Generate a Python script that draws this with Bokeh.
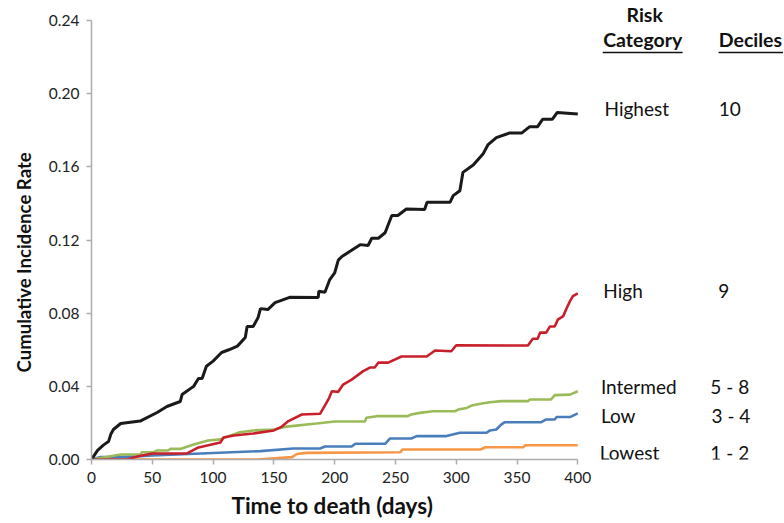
from bokeh.plotting import figure
from bokeh.models import Range1d, FixedTicker, NumeralTickFormatter, ColumnDataSource, Title
from bokeh.core.properties import value
from bokeh.embed import file_html
from bokeh.resources import INLINE

# ---- data ----
days_black = [0, 5, 10, 14, 16, 18, 24, 40, 54, 62, 73, 74.5, 84, 88, 91, 94.5, 100, 107, 113, 120,
              126.5, 128, 133, 137, 139, 145, 151, 163, 186.5, 187, 192, 196, 200, 203, 206, 213, 221,
              227.5, 230.5, 236, 241.5, 247, 252, 259, 274, 276, 295, 297.5, 303, 305.5, 314, 322, 326,
              333, 344, 354, 360.5, 367, 371, 379, 383, 400]
highest = [0, 0.005, 0.008, 0.0098, 0.014, 0.0164, 0.0197, 0.021, 0.0257, 0.029, 0.0317, 0.0355, 0.040,
           0.0443, 0.0443, 0.051, 0.0538, 0.0585, 0.060, 0.062, 0.0667, 0.0727, 0.0727, 0.0776, 0.0825,
           0.082, 0.0858, 0.0887, 0.0886, 0.092, 0.0915, 0.0984, 0.102, 0.109, 0.111, 0.114, 0.1175,
           0.117, 0.121, 0.121, 0.124, 0.1334, 0.1334, 0.137, 0.1367, 0.1407, 0.1407, 0.1443, 0.147,
           0.157, 0.161, 0.167, 0.172, 0.176, 0.1786, 0.1786, 0.182, 0.182, 0.186, 0.186, 0.1897, 0.189]

days_red = [0, 29, 38.6, 50, 78.6, 88, 106, 108.6, 117, 133, 150, 156.6, 162, 173, 188, 190.6, 195,
            197.7, 203, 207, 214, 223.5, 229, 233, 236, 244, 255, 275.7, 282.6, 296, 300, 359, 363,
            367, 369, 374, 377, 381, 383.6, 388, 391, 393.6, 396, 400]
high = [0, 0, 0.0018, 0.0033, 0.0033, 0.0066, 0.0093, 0.012, 0.0131, 0.0142, 0.0159, 0.018, 0.021,
        0.0246, 0.025, 0.028, 0.033, 0.0373, 0.037, 0.041, 0.0437, 0.0483, 0.0503, 0.0503, 0.053,
        0.053, 0.0563, 0.0563, 0.0596, 0.0592, 0.0625, 0.0623, 0.066, 0.066, 0.0694, 0.0694, 0.0727,
        0.0727, 0.0765, 0.0784, 0.083, 0.0866, 0.0893, 0.0908]

days_green = [0, 15.6, 24, 40, 41.6, 51, 54, 63, 65, 73, 84, 96, 106, 111.5, 122, 133, 150, 160.7,
              185, 200, 225, 226, 234.6, 260, 263, 270, 281, 299, 301.6, 308.6, 312.7, 321, 327.7,
              337, 359, 360.6, 378, 381, 393.6, 400]
intermed = [0, 0.0018, 0.0027, 0.0027, 0.004, 0.004, 0.0049, 0.0049, 0.0058, 0.0058, 0.0082, 0.0104,
            0.011, 0.0125, 0.0149, 0.0159, 0.0164, 0.018, 0.0197, 0.0208, 0.0208, 0.0228, 0.0237,
            0.0237, 0.0246, 0.0255, 0.0264, 0.0264, 0.0273, 0.0282, 0.0295, 0.0306, 0.0313, 0.0319,
            0.0319, 0.0328, 0.0328, 0.0352, 0.0355, 0.0373]

days_blue = [0, 7.4, 21, 40, 50, 139, 166, 188, 192, 214, 217, 241.5, 245.6, 263, 267.5, 292, 303,
             325, 327.7, 333, 337, 340, 370, 374, 381, 382.6, 393.6, 400]
low = [0, 0.0013, 0.0013, 0.0018, 0.0022, 0.0046, 0.006, 0.006, 0.0071, 0.0071, 0.0086, 0.0086,
       0.0115, 0.0115, 0.0128, 0.0128, 0.0146, 0.0146, 0.0159, 0.0164, 0.0191, 0.0204, 0.0204,
       0.0219, 0.0219, 0.0232, 0.0232, 0.0252]

days_orange = [0, 136, 165, 169, 177, 254, 256, 320, 324, 355, 357, 400]
lowest = [0, 0, 0.0013, 0.003, 0.0036, 0.004, 0.0055, 0.0055, 0.0067, 0.0067, 0.0078, 0.0078]

categories = ["Highest", "High", "Intermed", "Low", "Lowest"]
deciles = ["10", "9", "5 - 8", "3 - 4", "1 - 2"]
x_ticks = [0, 50, 100, 150, 200, 250, 300, 350, 400]
y_ticks = [0.0, 0.04, 0.08, 0.12, 0.16, 0.20, 0.24]

# ---- layout / style ----
label_y = [0.1919, 0.0924, 0.0399, 0.0241, 0.0038]
cat_x = [422, 421, 419, 419, 418]
dec_x = [525, 520, 525, 526, 525]

FONT = "Lato"
p = figure(width=783, height=522, output_backend="svg", toolbar_location=None,
           x_range=Range1d(0, 569.2), y_range=Range1d(0, 0.251),
           min_border_left=90, min_border_right=0, min_border_top=0, min_border_bottom=63)
p.outline_line_color = None
p.grid.visible = False
p.background_fill_color = "white"
p.border_fill_color = "white"

for ax in (p.xaxis[0], p.yaxis[0]):
    ax.axis_line_color = "#adadad"
    ax.axis_line_width = 1.5
    ax.major_tick_line_color = "#adadad"
    ax.major_tick_line_width = 1.5
    ax.major_tick_out = 5
    ax.major_tick_in = 0
    ax.minor_tick_line_color = None
    ax.major_label_text_font = FONT
    ax.major_label_text_font_size = "15.5px"
    ax.major_label_text_color = "#222222"

p.xaxis.bounds = (0, 400)
p.yaxis.bounds = (0, 0.24)
p.xaxis.ticker = FixedTicker(ticks=x_ticks)
p.yaxis.ticker = FixedTicker(ticks=y_ticks)
p.yaxis.formatter = NumeralTickFormatter(format="0.00")
p.xaxis.major_label_standoff = 7
p.yaxis.major_label_standoff = 7

# axis titles placed as side titles, aligned on the bounded axes
p.add_layout(Title(text="Time to death (days)", text_font=FONT, text_font_size="22.5px",
                   text_font_style="bold", text_color="#111111", align="left", offset=140,
                   standoff=8), "below")
p.add_layout(Title(text="Cumulative Incidence Rate", text_font=FONT, text_font_size="18.6px",
                   text_font_style="bold", text_color="#111111", align="left", offset=87,
                   standoff=21), "left")

p.line(days_orange, lowest, line_color="#F79646", line_width=2.6)
p.line(days_blue, low, line_color="#4A7EBB", line_width=2.6)
p.line(days_green, intermed, line_color="#9BBB59", line_width=2.6)
p.line(days_red, high, line_color="#C8202B", line_width=2.6)
p.line(days_black, highest, line_color="#1a1a1a", line_width=3)

src = ColumnDataSource(dict(cx=cat_x, dx=dec_x, y=label_y, cat=categories, dec=deciles))
p.text(x="cx", y="y", text="cat", source=src, text_font=value(FONT), text_font_size="19px",
       text_align="left", text_baseline="middle", text_color="#111111")
p.text(x="dx", y="y", text="dec", source=src, text_font=value(FONT), text_font_size="19px",
       text_align="center", text_baseline="middle", text_color="#111111")

hdr = ColumnDataSource(dict(x=[455, 453.4, 542], y=[0.2433, 0.2296, 0.2296],
                            t=["Risk", "Category", "Deciles"]))
p.text(x="x", y="y", text="t", source=hdr, text_font=value(FONT), text_font_size="19.5px",
       text_font_style="bold", text_align="center", text_baseline="middle", text_color="#111111")
p.segment(x0=[420.5, 515.8], y0=[0.2226, 0.2226], x1=[486.2, 569], y1=[0.2226, 0.2226],
          line_color="#111111", line_width=1.5)

open("out.html", "w").write(file_html(p, INLINE))
